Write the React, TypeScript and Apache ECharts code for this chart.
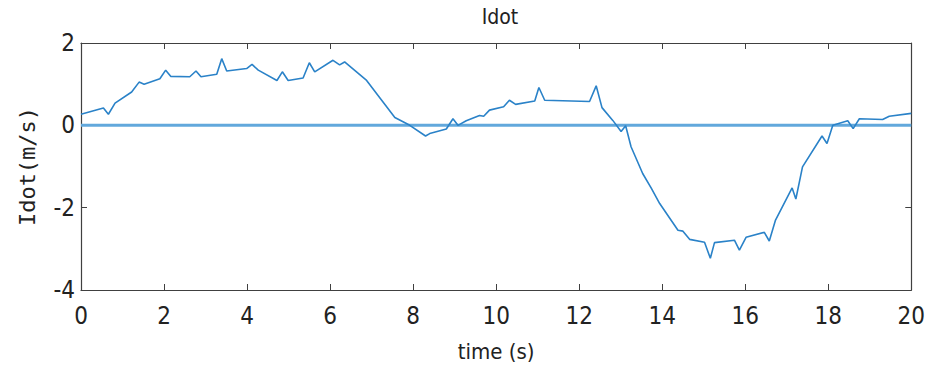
import React, { useEffect, useRef } from "react";
import * as echarts from "echarts";

// time samples (s) and ldot values (m/s)
const times = [
  0, 0.54, 0.66, 0.82, 1.22, 1.4, 1.52, 1.9, 2.04, 2.16, 2.62, 2.77, 2.89, 3.27, 3.39, 3.51,
  3.99, 4.12, 4.27, 4.72, 4.85, 4.99, 5.35, 5.5, 5.63, 6.07, 6.23, 6.35, 6.88, 7.56, 7.92,
  8.3, 8.4, 8.8, 8.96, 9.08, 9.28, 9.6, 9.7, 9.84, 10.18, 10.32, 10.47, 10.93, 11.03, 11.17,
  12.25, 12.41, 12.55, 12.81, 13.01, 13.12, 13.25, 13.53, 13.74, 13.94, 14.38, 14.5, 14.66,
  15.02, 15.16, 15.26, 15.74, 15.86, 16.02, 16.46, 16.58, 16.73, 17.13, 17.22, 17.38, 17.85,
  17.97, 18.11, 18.47, 18.6, 18.75, 19.31, 19.47, 20,
];
const ldot = [
  0.27, 0.42, 0.27, 0.54, 0.81, 1.05, 1.0, 1.13, 1.34, 1.19, 1.18, 1.32, 1.18, 1.24, 1.62, 1.32,
  1.38, 1.48, 1.34, 1.09, 1.3, 1.09, 1.15, 1.52, 1.3, 1.58, 1.47, 1.54, 1.09, 0.19, 0.0,
  -0.26, -0.2, -0.09, 0.16, 0.0, 0.11, 0.24, 0.22, 0.37, 0.45, 0.61, 0.51, 0.59, 0.92, 0.61,
  0.58, 0.96, 0.43, 0.12, -0.15, -0.01, -0.52, -1.17, -1.53, -1.9, -2.55, -2.57, -2.77,
  -2.84, -3.23, -2.85, -2.79, -3.03, -2.72, -2.6, -2.81, -2.3, -1.52, -1.79, -1.01, -0.26,
  -0.44, 0.0, 0.11, -0.08, 0.16, 0.14, 0.22, 0.29,
];
// reference level
const zeroTimes = [0, 20];
const zeroValues = [0, 0];

const FONT = "'Liberation Sans Narrow', 'DejaVu Sans Condensed', 'Liberation Sans', sans-serif";
const AXIS_COLOR = "#404040";

export default function App() {
  const ref = useRef<HTMLDivElement>(null);

  useEffect(() => {
    if (!ref.current) return;
    const chart = echarts.init(ref.current, undefined, { renderer: "svg" });
    const tickStyle = {
      show: true,
      inside: true,
      length: 6,
      lineStyle: { color: AXIS_COLOR, width: 1 },
    };
    const lineStyle = {
      show: true,
      onZero: false,
      lineStyle: { color: AXIS_COLOR, width: 1.2 },
    };
    chart.setOption({
      animation: false,
      backgroundColor: "#ffffff",
      title: {
        text: "Idot",
        left: 495,
        top: 1,
        textAlign: "center",
        textStyle: { fontFamily: FONT, fontSize: 21, fontWeight: "normal", color: "#222" },
      },
      grid: { left: 81, right: 16, top: 43, bottom: 84 },
      xAxis: [
        {
          type: "value",
          min: 0,
          max: 20,
          interval: 2,
          name: "time (s)",
          nameLocation: "middle",
          nameGap: 50,
          nameTextStyle: { fontFamily: FONT, fontSize: 22, color: "#222" },
          axisLine: lineStyle,
          axisTick: tickStyle,
          axisLabel: { fontFamily: FONT, fontSize: 24, color: "#222", margin: 14 },
          splitLine: { show: false },
        },
        {
          type: "value",
          position: "top",
          min: 0,
          max: 20,
          interval: 2,
          axisLine: lineStyle,
          axisTick: tickStyle,
          axisLabel: { show: false },
          splitLine: { show: false },
        },
      ],
      yAxis: [
        {
          type: "value",
          min: -4,
          max: 2,
          interval: 2,
          name: "Idot(m/s)",
          nameLocation: "middle",
          nameGap: 43,
          nameRotate: 90,
          nameTextStyle: { fontFamily: "'DejaVu Sans Mono', monospace", fontSize: 22, color: "#222" },
          axisLine: lineStyle,
          axisTick: tickStyle,
          axisLabel: { fontFamily: FONT, fontSize: 24, color: "#222", margin: 6 },
          splitLine: { show: false },
        },
        {
          type: "value",
          position: "right",
          min: -4,
          max: 2,
          interval: 2,
          axisLine: lineStyle,
          axisTick: tickStyle,
          axisLabel: { show: false },
          splitLine: { show: false },
        },
      ],
      series: [
        {
          type: "line",
          data: zeroTimes.map((t, i) => [t, zeroValues[i]]),
          showSymbol: false,
          symbol: "none",
          lineStyle: { color: "#62a8dc", width: 3 },
          z: 2,
        },
        {
          type: "line",
          data: times.map((t, i) => [t, ldot[i]]),
          showSymbol: false,
          symbol: "none",
          lineStyle: { color: "#2a82c8", width: 1.6 },
          z: 3,
        },
      ],
    });
    return () => chart.dispose();
  }, []);

  return <div ref={ref} style={{ width: 928, height: 374, position: "absolute", left: 0, top: 0 }} />;
}
